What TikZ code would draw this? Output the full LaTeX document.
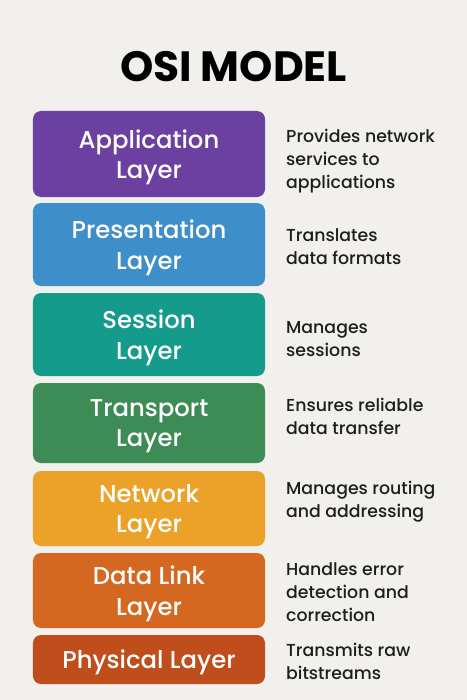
\documentclass[tikz,border=0pt]{standalone}
\usepackage{fontspec}
\setmainfont{Poppins}
\newfontfamily\pmed{Poppins Medium}
\definecolor{bgc}{HTML}{F2F0EC}
\definecolor{cApp}{HTML}{6B40A0}
\definecolor{cPre}{HTML}{3E8EC9}
\definecolor{cSes}{HTML}{149B8C}
\definecolor{cTra}{HTML}{3D8B55}
\definecolor{cNet}{HTML}{ECA128}
\definecolor{cDat}{HTML}{D46820}
\definecolor{cPhy}{HTML}{C04E1C}
\definecolor{txt}{HTML}{1E1E1E}
\tikzset{
  layerbox/.style={draw=none, rounded corners=8bp, minimum width=232bp, inner sep=0pt,
    text=white, align=center, text depth=0pt, font=\pmed\fontsize{24.4}{30.5}\selectfont},
  desc/.style={anchor=base west, inner sep=0pt, text=txt, font=\pmed\fontsize{17.4}{23.4}\selectfont},
  titlestyle/.style={inner sep=0pt, anchor=base, font=\bfseries\fontsize{42.5}{42.5}\selectfont, text=black}
}
\begin{document}
\begin{tikzpicture}[x=1bp,y=-1bp]
\fill[bgc] (0,0) rectangle (467,700);
\useasboundingbox (0,0) rectangle (467,700);
\node[titlestyle] (title) at (233.5,82) {OSI MODEL};
\node[layerbox, fill=cApp, minimum height=86bp] (app) at (149,154) {Application\\Layer};
\node[layerbox, fill=cPre, minimum height=83bp] (pre) at (149,244.5) {Presentation\\Layer};
\node[layerbox, fill=cSes, minimum height=83bp] (ses) at (149,334.5) {Session\\Layer};
\node[layerbox, fill=cTra, minimum height=80bp] (tra) at (149,423) {Transport\\Layer};
\node[layerbox, fill=cNet, minimum height=75bp] (net) at (149,508.5) {Network\\Layer};
\node[layerbox, fill=cDat, minimum height=75bp] (dat) at (149,590.5) {Data Link\\Layer};
\node[layerbox, fill=cPhy, minimum height=49bp] (phy) at (149,659.5) {Physical Layer};
\node[desc] (dapp) at (286,142) {\vtop{\hbox{Provides network}\hbox{services to}\hbox{applications}}};
\node[desc] (dpre) at (286,241) {\vtop{\hbox{Translates}\hbox{data formats}}};
\node[desc] (dses) at (286,333) {\vtop{\hbox{Manages}\hbox{sessions}}};
\node[desc] (dtra) at (286,411) {\vtop{\hbox{Ensures reliable}\hbox{data transfer}}};
\node[desc] (dnet) at (286,494) {\vtop{\hbox{Manages routing}\hbox{and addressing}}};
\node[desc] (ddat) at (286,575) {\vtop{\hbox{Handles error}\hbox{detection and}\hbox{correction}}};
\node[desc] (dphy) at (286,656) {\vtop{\hbox{Transmits raw}\hbox{bitstreams}}};
\end{tikzpicture}
\end{document}
